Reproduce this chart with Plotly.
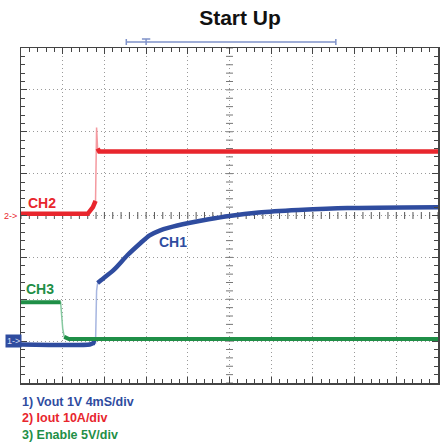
import numpy as np
import plotly.graph_objects as go

# ---------------- data ----------------
# time axis: 4 ms/div, 10 divisions
time_per_div_ms = 4.0
n_xdiv = 10
n_ydiv = 8

# CH1: Vout, 1 V/div, ground marker at 1 div
ch1_scale = 1.0
ch1_offset_div = 1.0
ch1_t = [0, 6.6, 7.0, 7.15, 7.25, 7.35, 7.7, 8.9, 10.2, 11.5, 12.3, 13.3, 14.2, 16.1,
         18.0, 20.0, 22.8, 26.6, 31.3, 40.0]
ch1_v = [-0.08, -0.08, -0.04, -0.05, 1.2, 1.39, 1.46, 1.70, 2.05, 2.35, 2.52, 2.64, 2.71,
         2.82, 2.91, 2.99, 3.07, 3.13, 3.18, 3.20]

# CH2: Iout, 10 A/div, zero marker at 4 div
ch2_scale = 10.0
ch2_offset_div = 4.0
ch2_t = [0, 6.4, 6.9, 7.15, 7.25, 7.35, 7.5, 40.0]
ch2_i = [0.4, 0.4, 2.0, 3.5, 21.0, 16.0, 15.3, 15.3]

# CH3: Enable, 5 V/div, ground at 1 div
ch3_scale = 5.0
ch3_offset_div = 1.0
ch3_t = [0, 3.8, 4.0, 4.15, 4.6, 40.0]
ch3_v = [4.65, 4.65, 1.5, 0.5, 0.25, 0.25]

# trigger / record bar above the screen (ms)
trig_start_ms = 10.1
trig_end_ms = 30.2
trig_ms = 12.0

title_text = "Start Up"
legend_lines = ["1) Vout 1V 4mS/div", "2) Iout 10A/div", "3) Enable 5V/div"]

# ---------------- styling ----------------
BLUE, BLUE_L = "#2f4c9f", "#a7b6e0"
RED, RED_L = "#e8262d", "#f49aa0"
GREEN, GREEN_L = "#1f8f47", "#86c9a0"
FONT = "Liberation Sans"

W, H = 440, 444
ML, MR, MT, MB = 21, 0, 48, 61


def to_div(vals, scale, offset):
    return [offset + v / scale for v in vals]


def thick_segments(t, y, max_slope=3.0):
    """Break the line where the edge is steep (scope draws fast edges faint)."""
    xs, ys = [t[0]], [y[0]]
    for i in range(1, len(t)):
        slope = abs(y[i] - y[i - 1]) / ((t[i] - t[i - 1]) / time_per_div_ms)
        if slope > max_slope:
            xs.append(None)
            ys.append(None)
        xs.append(t[i])
        ys.append(y[i])
    return xs, ys


fig = go.Figure()

channels = [
    (ch1_t, to_div(ch1_v, ch1_scale, ch1_offset_div), BLUE, BLUE_L, 4.5, "spline"),
    (ch3_t, to_div(ch3_v, ch3_scale, ch3_offset_div), GREEN, GREEN_L, 4.0, "linear"),
    (ch2_t, to_div(ch2_i, ch2_scale, ch2_offset_div), RED, RED_L, 4.5, "linear"),
]

# center graticule ticks
x_end = n_xdiv * time_per_div_ms
minor_t = np.arange(0, x_end + 1e-9, time_per_div_ms / 5)
minor_y = np.arange(0, n_ydiv + 1e-9, 0.2)
fig.add_trace(go.Scatter(x=minor_t, y=[n_ydiv / 2] * len(minor_t), mode="markers",
                         marker=dict(symbol="line-ns", size=5, line=dict(color="#555", width=1)),
                         hoverinfo="skip", showlegend=False))
fig.add_trace(go.Scatter(x=[x_end / 2] * len(minor_y), y=minor_y, mode="markers",
                         marker=dict(symbol="line-ew", size=5, line=dict(color="#777", width=1)),
                         hoverinfo="skip", showlegend=False))

for t, y, c, cl, w, shp in channels:
    fig.add_trace(go.Scatter(x=t, y=y, mode="lines", line=dict(color=cl, width=1.5),
                             hoverinfo="skip", showlegend=False))
for t, y, c, cl, w, shp in channels:
    xs, ys = thick_segments(t, y)
    line = dict(color=c, width=w, shape=shp)
    if shp == "spline":
        line["smoothing"] = 0.6
    fig.add_trace(go.Scatter(x=xs, y=ys, mode="lines", line=line,
                             connectgaps=False, hoverinfo="skip", showlegend=False))

axis_common = dict(showline=True, linecolor="#444", linewidth=1.5, mirror="ticks",
                   ticks="inside", tickcolor="#444", tickwidth=1, ticklen=6,
                   showticklabels=False, zeroline=False,
                   showgrid=True, gridcolor="#9a9a9a", gridwidth=1, griddash="1px,3px")

fig.update_xaxes(range=[0, x_end], dtick=time_per_div_ms,
                 minor=dict(dtick=time_per_div_ms / 5, ticks="inside", ticklen=4,
                            tickcolor="#444", showgrid=False),
                 **axis_common)
fig.update_yaxes(range=[0, n_ydiv], dtick=1,
                 minor=dict(dtick=0.2, ticks="inside", ticklen=4, tickcolor="#444",
                            showgrid=False),
                 **axis_common)

# trigger bar above the graticule
plot_h = H - MT - MB
bar_y = (H - MB - 42) / plot_h
cap = 3 / plot_h
bar_col = "#7f92c9"
shapes = [
    dict(type="line", xref="x", yref="paper", x0=trig_start_ms, x1=trig_end_ms, y0=bar_y, y1=bar_y,
         line=dict(color=bar_col, width=1.5)),
    dict(type="line", xref="x", yref="paper", x0=trig_start_ms, x1=trig_start_ms,
         y0=bar_y - cap, y1=bar_y + cap, line=dict(color=bar_col, width=1.5)),
    dict(type="line", xref="x", yref="paper", x0=trig_end_ms, x1=trig_end_ms,
         y0=bar_y - cap, y1=bar_y + cap, line=dict(color=bar_col, width=1.5)),
    dict(type="line", xref="x", yref="paper", x0=trig_ms, x1=trig_ms,
         y0=bar_y - cap, y1=bar_y + cap, line=dict(color=bar_col, width=1.5)),
    dict(type="line", xref="x", yref="paper", x0=trig_ms - 0.4, x1=trig_ms + 0.4,
         y0=bar_y + cap, y1=bar_y + cap, line=dict(color=bar_col, width=1.5)),
]

annotations = [
    dict(text="<b>CH2</b>", x=2.0, y=4.3, xref="x", yref="y", showarrow=False,
         font=dict(family=FONT, size=14, color=RED)),
    dict(text="<b>CH1</b>", x=14.55, y=3.37, xref="x", yref="y", showarrow=False,
         font=dict(family=FONT, size=14, color=BLUE)),
    dict(text="<b>CH3</b>", x=1.8, y=2.25, xref="x", yref="y", showarrow=False,
         font=dict(family=FONT, size=14, color=GREEN)),
    dict(text="2-&gt;", x=-11 / (W - ML - MR), y=ch2_offset_div, xref="paper", yref="y",
         xanchor="center", yanchor="middle",
         showarrow=False, font=dict(family=FONT, size=9, color=RED)),
    dict(text="1-&gt;", x=-8 / (W - ML - MR), y=ch1_offset_div, xref="paper", yref="y",
         xanchor="center", yanchor="middle",
         showarrow=False, bgcolor=BLUE, borderpad=1,
         font=dict(family=FONT, size=9, color="#d5ddf2")),
]
legend_cols = [BLUE, RED, GREEN]
legend_py = [402, 418, 435]
for txt, col, py in zip(legend_lines, legend_cols, legend_py):
    annotations.append(dict(text="<b>" + txt + "</b>", x=-1 / (W - ML - MR),
                            y=(H - MB - py) / plot_h, xref="paper", yref="paper",
                            xanchor="left", yanchor="middle", showarrow=False,
                            font=dict(family=FONT, size=12.5, color=col)))

fig.update_layout(
    width=W, height=H,
    margin=dict(l=ML, r=MR, t=MT, b=MB),
    paper_bgcolor="white", plot_bgcolor="white",
    title=dict(text="<b>" + title_text + "</b>", x=240 / W, xref="container", xanchor="center",
               y=1 - 18 / H, yref="container", yanchor="middle",
               font=dict(family=FONT, size=21, color="#111")),
    shapes=shapes, annotations=annotations, showlegend=False,
    hovermode=False,
)

post = ("document.body.style.margin='0';document.body.style.padding='0';"
        "document.body.style.overflow='hidden';"
        "Plotly.relayout(document.getElementById('{plot_id}'), {width: 440, height: 444});")
fig.write_html("out.html", post_script=post,
               config={"displayModeBar": False, "staticPlot": True})
